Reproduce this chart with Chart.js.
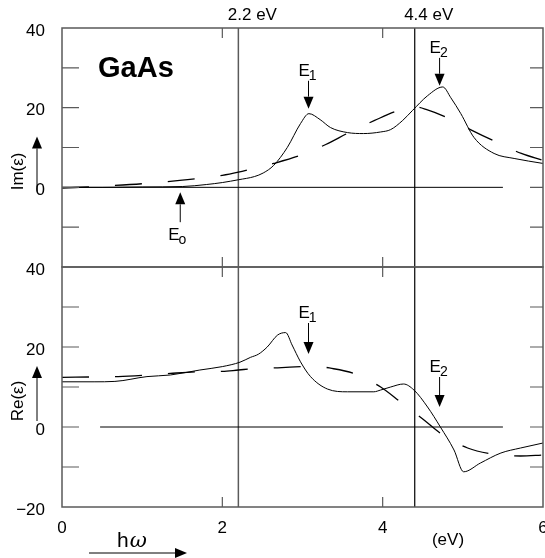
<!DOCTYPE html>
<html>
<head>
<meta charset="utf-8">
<script src="https://cdn.jsdelivr.net/npm/chart.js@4.4.1/dist/chart.umd.min.js"></script>
<style>
  html, body { margin: 0; padding: 0; background: #fff; }
  #wrap { position: relative; width: 545px; height: 558px; }
  #wrap canvas { position: absolute; left: 0; top: 0; }
</style>
</head>
<body>
<div id="wrap">
  <canvas id="imChart" width="545" height="558"></canvas>
  <canvas id="reChart" width="545" height="558"></canvas>
</div>
<script>
// photon energy (eV) and dielectric function
const imSolidE = [0, 0.5, 1.0, 1.5, 1.8, 2.0, 2.2, 2.4, 2.51, 2.64, 2.81, 2.975, 3.08, 3.22, 3.35, 3.56, 3.76, 3.975, 4.1, 4.25, 4.37, 4.56, 4.75, 4.85, 4.975, 5.14, 5.39, 5.64, 6.0];
const imSolidV = [0, 0, 0.1, 0.2, 0.7, 1.2, 1.9, 2.7, 3.6, 5.5, 10, 16, 18.5, 17, 15, 13.75, 13.5, 13.9, 14.5, 16.8, 19.25, 23, 25.2, 22.5, 18.5, 12.5, 8.5, 7.25, 6];

const imDashE = [0, 0.5, 1.0, 1.5, 2.0, 2.2, 2.4, 2.64, 2.97, 3.29, 3.58, 3.9, 4.19, 4.4, 4.55, 4.83, 5.12, 5.43, 5.73, 6.0];
const imDashV = [-0.2, 0.3, 0.9, 1.8, 3.0, 3.8, 4.8, 6.0, 8.0, 10.75, 13.75, 16.8, 19.25, 20.2, 19.5, 17.25, 14.25, 11.25, 8.5, 6.75];

const reSolidE = [0, 0.4, 0.66, 1.06, 1.35, 1.72, 2.0, 2.22, 2.35, 2.45, 2.56, 2.69, 2.79, 2.87, 2.975, 3.1, 3.31, 3.56, 3.89, 3.975, 4.1, 4.26, 4.39, 4.56, 4.72, 4.89, 5.01, 5.22, 5.475, 5.72, 6.0];
const reSolidV = [11.3, 11.3, 11.4, 12.6, 13, 14.25, 15.1, 16.2, 17.4, 18.2, 20, 23, 23.6, 20.5, 16.3, 12.6, 9.5, 8.8, 8.8, 9.25, 10, 10.75, 9.25, 5, 0, -5.75, -11.2, -9, -6.5, -5.25, -4];

const reDashE = [0, 0.35, 0.7, 1.0, 1.35, 1.7, 2.0, 2.2, 2.4, 2.69, 3.0, 3.15, 3.35, 3.66, 3.975, 4.22, 4.5, 4.75, 5.06, 5.375, 5.72, 6.0];
const reDashV = [12.4, 12.5, 12.6, 12.9, 13.4, 13.8, 13.9, 14.25, 14.6, 14.8, 15.1, 15.2, 14.7, 13.25, 10, 6.3, 2, -2, -5.25, -6.75, -7.25, -7];

// axes
const xTicks = [0, 2, 4, 6];
const yTicks = [-20, -10, 0, 10, 20, 30, 40];
const imYLabels = [0, 20, 40];
const reYLabels = [-20, 0, 20, 40];
const guideE = [2.2, 4.4];

// peak markers: subscript, energy, arrow tail and tip values
const imMarkSub = ['1', '2', 'o'];
const imMarkE = [3.075, 4.71, 1.475];
const imMarkTail = [26.75, 32.5, -8.75];
const imMarkTip = [19.75, 25.5, -1.25];
const reMarkSub = ['1', '2'];
const reMarkE = [3.075, 4.71];
const reMarkTail = [26, 12.5];
const reMarkTip = [18.25, 5];

const FONT = '"Liberation Sans", Arial, Helvetica, sans-serif';
const FRAME = '#5a5a5a';

function pts(xs, ys) {
  return xs.map((x, i) => ({ x: x, y: ys[i] }));
}

function arrow(ctx, x1, y1, x2, y2) {
  const ang = Math.atan2(y2 - y1, x2 - x1);
  const len = 12, half = 5;
  const bx = x2 - len * Math.cos(ang), by = y2 - len * Math.sin(ang);
  ctx.beginPath(); ctx.moveTo(x1, y1); ctx.lineTo(bx, by); ctx.stroke();
  ctx.beginPath();
  ctx.moveTo(x2, y2);
  ctx.lineTo(bx + half * Math.sin(ang), by - half * Math.cos(ang));
  ctx.lineTo(bx - half * Math.sin(ang), by + half * Math.cos(ang));
  ctx.closePath();
  ctx.fill();
}

function subLabel(ctx, x, y, main, sub) {
  ctx.textAlign = 'left';
  ctx.textBaseline = 'alphabetic';
  ctx.font = '17px ' + FONT;
  ctx.fillText(main, x, y);
  const w = ctx.measureText(main).width;
  ctx.font = '14px ' + FONT;
  ctx.fillText(sub, x + w - 1, y + 4);
}

const decor = {
  id: 'decor',
  afterDatasetsDraw(chart, args, o) {
    const { ctx, chartArea: a, scales } = chart;
    const x = scales.x, y = scales.y;
    ctx.save();
    ctx.strokeStyle = FRAME;
    ctx.lineWidth = 1.5;
    ctx.strokeRect(a.left, a.top, a.right - a.left, a.bottom - a.top);

    // inward tick marks
    ctx.lineWidth = 1.2;
    ctx.beginPath();
    yTicks.filter(v => v > y.min && v < y.max).forEach(v => {
      const py = y.getPixelForValue(v);
      ctx.moveTo(a.left, py); ctx.lineTo(a.left + 17, py);
      ctx.moveTo(a.right, py); ctx.lineTo(a.right - 13, py);
    });
    xTicks.filter(v => v > x.min && v < x.max).forEach(v => {
      const px = x.getPixelForValue(v);
      ctx.moveTo(px, a.top); ctx.lineTo(px, a.top + 10);
      ctx.moveTo(px, a.bottom); ctx.lineTo(px, a.bottom - 10);
    });
    ctx.stroke();

    // peak arrows
    ctx.strokeStyle = '#000';
    ctx.fillStyle = '#000';
    ctx.lineWidth = 1;
    o.markE.forEach((e, i) => {
      const px = x.getPixelForValue(e);
      const ty = y.getPixelForValue(o.markTail[i]);
      const hy = y.getPixelForValue(o.markTip[i]);
      arrow(ctx, px, ty, px, hy);
      if (hy > ty) subLabel(ctx, px - 10, ty - 5, 'E', o.markSub[i]);
      else subLabel(ctx, px - 12, ty + 18, 'E', o.markSub[i]);
    });

    // side title with arrow
    const cy = y.getPixelForValue(o.titleAt);
    ctx.save();
    ctx.translate(a.left - 44, cy);
    ctx.rotate(-Math.PI / 2);
    ctx.font = '17px ' + FONT;
    ctx.textAlign = 'center';
    ctx.textBaseline = 'middle';
    ctx.fillText(o.title, 0, 0);
    ctx.restore();
    arrow(ctx, a.left - 25, cy + 20, a.left - 25, cy - 35);

    if (o.name) {
      ctx.font = 'bold 29px ' + FONT;
      ctx.textAlign = 'left';
      ctx.textBaseline = 'alphabetic';
      ctx.fillText(o.name, a.left + 36, a.top + 49);
    }
    if (o.xTitle) {
      ctx.textBaseline = 'alphabetic';
      ctx.textAlign = 'left';
      ctx.font = '21px ' + FONT;
      ctx.fillText('h', a.left + 55, 547);
      const hw = ctx.measureText('h').width;
      ctx.font = 'italic 21px "DejaVu Serif", serif';
      ctx.fillText('\u03c9', a.left + 55 + hw + 1, 547);
      arrow(ctx, a.left + 27, 553, a.left + 125, 553);
      ctx.font = '17px ' + FONT;
      ctx.textAlign = 'center';
      ctx.fillText('(eV)', 448, 545);
    }
    ctx.restore();
  }
};

function fmtY(v) {
  return v < 0 ? '\u2212' + Math.abs(v) : String(v);
}

function lineSets(solidE, solidV, dashE, dashV, zeroFrom) {
  return [
    { data: pts(solidE, solidV), borderColor: '#000', borderWidth: 1, cubicInterpolationMode: 'monotone' },
    { data: pts(dashE, dashV), borderColor: '#000', borderWidth: 1.3, borderDash: [27, 26], cubicInterpolationMode: 'monotone' },
    { data: pts([zeroFrom, 5.5], [0, 0]), borderColor: '#000', borderWidth: 1 },
    { data: pts([guideE[0], guideE[0]], [-20, 40]), borderColor: FRAME, borderWidth: 1.5 },
    { data: pts([guideE[1], guideE[1]], [-20, 40]), borderColor: '#000', borderWidth: 1.2 }
  ];
}

function yScale(labels) {
  return {
    min: -20, max: 40,
    grid: { display: false },
    border: { display: false },
    afterBuildTicks: s => { s.ticks = yTicks.map(v => ({ value: v })); },
    afterFit: s => { s.width = 62; s.paddingTop = 0; s.paddingBottom = 0; },
    ticks: {
      autoSkip: false,
      padding: 9,
      labelOffset: 3,
      color: '#000',
      font: { family: FONT, size: 17 },
      callback: v => labels.includes(v) ? fmtY(v) : ''
    }
  };
}

Chart.defaults.font.family = FONT;

new Chart(document.getElementById('imChart'), {
  type: 'line',
  data: { datasets: lineSets(imSolidE, imSolidV, imDashE, imDashV, 0) },
  options: {
    responsive: false,
    animation: false,
    devicePixelRatio: 1,
    layout: { padding: { left: 0, right: 2, top: 0, bottom: 291 } },
    elements: { point: { radius: 0 }, line: { tension: 0 } },
    plugins: {
      legend: { display: false },
      tooltip: { enabled: false },
      decor: { markSub: imMarkSub, markE: imMarkE, markTail: imMarkTail, markTip: imMarkTip, title: 'Im(\u03b5)', titleAt: 4, name: 'GaAs' }
    },
    scales: {
      x: { type: 'linear', min: 0, max: 6, display: false },
      xTop: {
        type: 'linear', position: 'top', min: 0, max: 6,
        grid: { display: false },
        border: { display: false },
        afterBuildTicks: s => { s.ticks = guideE.map(v => ({ value: v })); },
        afterFit: s => { s.height = 28; s.paddingLeft = 0; s.paddingRight = 0; },
        ticks: {
          autoSkip: false,
          maxRotation: 0,
          padding: -6,
          labelOffset: 14,
          color: '#000',
          font: { family: FONT, size: 17 },
          callback: v => v.toFixed(1) + ' eV'
        }
      },
      y: yScale(imYLabels)
    }
  },
  plugins: [decor]
});

new Chart(document.getElementById('reChart'), {
  type: 'line',
  data: { datasets: lineSets(reSolidE, reSolidV, reDashE, reDashV, 0.475) },
  options: {
    responsive: false,
    animation: false,
    devicePixelRatio: 1,
    layout: { padding: { left: 0, right: 2, top: 267, bottom: 0 } },
    elements: { point: { radius: 0 }, line: { tension: 0 } },
    plugins: {
      legend: { display: false },
      tooltip: { enabled: false },
      decor: { markSub: reMarkSub, markE: reMarkE, markTail: reMarkTail, markTip: reMarkTip, title: 'Re(\u03b5)', titleAt: 6.5, xTitle: true }
    },
    scales: {
      x: {
        type: 'linear', min: 0, max: 6,
        grid: { display: false },
        border: { display: false },
        afterBuildTicks: s => { s.ticks = xTicks.map(v => ({ value: v })); },
        afterFit: s => { s.height = 51; s.paddingLeft = 0; s.paddingRight = 0; },
        ticks: {
          autoSkip: false,
          maxRotation: 0,
          padding: 3,
          color: '#000',
          font: { family: FONT, size: 17 }
        }
      },
      y: yScale(reYLabels)
    }
  },
  plugins: [decor]
});
</script>
</body>
</html>
